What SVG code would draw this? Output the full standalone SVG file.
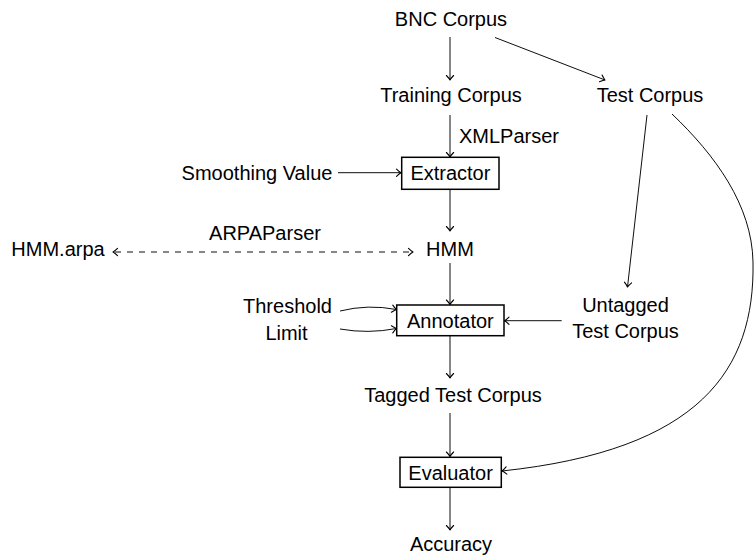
<svg xmlns="http://www.w3.org/2000/svg" width="755" height="556" viewBox="0 0 755 556">
  <defs>
    <marker id="tip" viewBox="-6 -5 8 10" refX="0" refY="0" markerWidth="8" markerHeight="10" markerUnits="userSpaceOnUse" orient="auto-start-reverse">
      <path d="M-4.5,-3.6 Q-1.6,-0.8 0,0 Q-1.6,0.8 -4.5,3.6" fill="none" stroke="#000" stroke-width="1.1" stroke-linecap="round" stroke-linejoin="round"/>
    </marker>
    <style>
      text { font-family: "Liberation Sans", Arial, sans-serif; font-size: 20px; fill: #000; }
      .mid { text-anchor: middle; }
      .box { fill: #fff; stroke: #000; stroke-width: 1.5; }
      .edge { fill: none; stroke: #000; stroke-width: 0.95; marker-end: url(#tip); }
      .dash { stroke-dasharray: 6 6; stroke-dashoffset: -2; marker-start: url(#tip); }
    </style>
  </defs>

  <!-- nodes -->
  <g id="bnc"><text class="mid" x="451" y="26">BNC Corpus</text></g>
  <g id="training"><text class="mid" x="451" y="101.7">Training Corpus</text></g>
  <g id="test"><text class="mid" x="650" y="101.7">Test Corpus</text></g>
  <g id="smoothing"><text class="mid" x="257" y="180">Smoothing Value</text></g>
  <g id="extractor">
    <rect class="box" x="401.7" y="157.3" width="97.3" height="32"/>
    <text class="mid" x="450.4" y="180">Extractor</text>
  </g>
  <g id="hmm-arpa"><text class="mid" x="58" y="256">HMM.arpa</text></g>
  <g id="hmm"><text class="mid" x="450" y="256">HMM</text></g>
  <g id="threshold"><text class="mid" x="287.5" y="313">Threshold</text></g>
  <g id="limit"><text class="mid" x="286.5" y="340">Limit</text></g>
  <g id="annotator">
    <rect class="box" x="396.7" y="305" width="107.3" height="30.7"/>
    <text class="mid" x="450.4" y="327.5">Annotator</text>
  </g>
  <g id="untagged">
    <text class="mid" x="625.5" y="311.7">Untagged</text>
    <text class="mid" x="625.5" y="338">Test Corpus</text>
  </g>
  <g id="tagged"><text class="mid" x="453" y="401.7">Tagged Test Corpus</text></g>
  <g id="evaluator">
    <rect class="box" x="400" y="457.3" width="101.3" height="30"/>
    <text class="mid" x="450.6" y="479.5">Evaluator</text>
  </g>
  <g id="accuracy"><text class="mid" x="451" y="551">Accuracy</text></g>

  <!-- connectors -->
  <g id="edges">
    <path class="edge" d="M450,37 V80"/>
    <path class="edge" d="M495,37.5 L605,80"/>
    <path class="edge" d="M450,115 V157"/>
    <text x="459" y="143">XMLParser</text>
    <path class="edge" d="M338,172.7 H401"/>
    <path class="edge" d="M450,189.3 V231"/>
    <path class="edge dash" d="M113,252 H413"/>
    <text class="mid" x="265" y="239.5">ARPAParser</text>
    <path class="edge" d="M450,263 V304.5"/>
    <path class="edge" d="M340,311 Q368,304 396.5,309.5"/>
    <path class="edge" d="M340,329 Q368,334 396.5,328.5"/>
    <path class="edge" d="M647,115 L627.5,287"/>
    <path class="edge" d="M561.7,320.7 H504.5"/>
    <path class="edge" d="M450,336 V378"/>
    <path class="edge" d="M450,413 V456.5"/>
    <path class="edge" d="M672,114 C715,155 752,205 753,262 C755,370 700,450 502,471"/>
    <path class="edge" d="M450,487.5 V530"/>
  </g>
</svg>
